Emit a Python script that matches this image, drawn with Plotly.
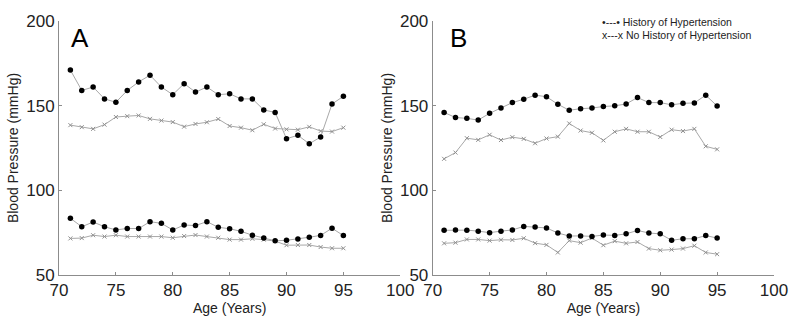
import plotly.graph_objects as go

ages = list(range(71, 96))

# Panel A
a_sys_htn = [171, 159, 161, 154, 152, 159, 164, 168, 161, 156.5, 163, 158, 161, 156.5, 157, 154, 154, 147.5, 146, 130.5, 132.5, 127.5, 131.5, 151, 155.5]
a_sys_no = [138.5, 137.3, 136.3, 138.8, 143.3, 143.8, 144.2, 142.2, 141.2, 140.3, 137.6, 139.2, 140.2, 142.1, 138, 137, 135.5, 139, 136.5, 136, 135.8, 137.5, 135, 134.7, 137]
a_dia_htn = [83.5, 78.5, 81.3, 78.5, 76.6, 77.5, 77.4, 81.5, 80.5, 76.6, 79.5, 79.2, 81.5, 78.2, 77.3, 75.8, 73.5, 71.8, 70.2, 70.5, 71.2, 72.3, 73.4, 77.6, 73.3]
a_dia_no = [71.6, 71.8, 73.5, 72.7, 73.5, 72.7, 72.7, 72.7, 72.7, 72.0, 73.0, 73.6, 72.7, 72.0, 70.9, 70.9, 71.4, 70.9, 70.0, 67.6, 67.7, 67.7, 66.5, 65.8, 65.8]

# Panel B
b_sys_htn = [146, 143, 142.5, 141.5, 145.5, 148.6, 151.8, 153.8, 156.2, 155.3, 150.8, 147.3, 148.2, 148.6, 149.5, 149.9, 151, 154.8, 151.8, 151.8, 150.5, 151.4, 151.6, 156.2, 149.8]
b_sys_no = [118.6, 122.3, 130.8, 129.8, 132.8, 129.7, 131.4, 130.4, 127.8, 130.6, 131.7, 139.5, 135.3, 134, 129.5, 134.6, 136.3, 134.6, 134.6, 131.5, 135.8, 135, 136.3, 126, 124.2]
b_dia_htn = [76.4, 76.6, 76.5, 75.9, 75.0, 75.9, 76.6, 78.7, 78.4, 77.8, 74.8, 73.0, 73.1, 72.8, 73.6, 73.4, 74.3, 76.3, 74.8, 74.3, 70.5, 71.4, 71.4, 73.3, 71.8]
b_dia_no = [68.7, 69.1, 71.0, 71.0, 70.3, 70.8, 70.7, 71.7, 68.8, 67.8, 63.3, 70.3, 69.1, 71.8, 67.6, 70.0, 68.7, 69.5, 65.6, 64.6, 65.0, 65.6, 67.3, 63.3, 62.3]

x_ticks = [70, 75, 80, 85, 90, 95, 100]
y_ticks = [50, 100, 150, 200]

LINE = "#a8a8a8"
AXIS = "#8c8c8c"

fig = go.Figure()

def add(y, xa, ya, dots):
    if dots:
        fig.add_trace(go.Scatter(
            x=ages, y=y, xaxis=xa, yaxis=ya, mode="lines+markers",
            line=dict(color=LINE, width=1),
            marker=dict(symbol="circle", size=5.5, color="black"),
            showlegend=False, hoverinfo="skip"))
    else:
        fig.add_trace(go.Scatter(
            x=ages, y=y, xaxis=xa, yaxis=ya, mode="lines+markers",
            line=dict(color=LINE, width=1),
            marker=dict(symbol="x-thin", size=4, line=dict(color="#909090", width=1)),
            showlegend=False, hoverinfo="skip"))

add(a_sys_no, "x", "y", False)
add(a_dia_no, "x", "y", False)
add(a_sys_htn, "x", "y", True)
add(a_dia_htn, "x", "y", True)
add(b_sys_no, "x2", "y2", False)
add(b_dia_no, "x2", "y2", False)
add(b_sys_htn, "x2", "y2", True)
add(b_dia_htn, "x2", "y2", True)

xcommon = dict(range=[70, 100], tickvals=x_ticks, ticktext=[str(v) for v in x_ticks],
               showline=True, linecolor=AXIS, linewidth=1, ticks="inside", ticklen=3,
               tickcolor=AXIS, showgrid=False, zeroline=False,
               tickfont=dict(size=17, color="#222"),
               title=dict(text="Age (Years)", font=dict(size=14, color="#222"), standoff=2))
ycommon = dict(range=[50, 200], tickvals=y_ticks, ticktext=[str(v) for v in y_ticks],
               showline=True, linecolor=AXIS, linewidth=1, ticks="inside", ticklen=3,
               tickcolor=AXIS, showgrid=False, zeroline=False,
               tickfont=dict(size=17, color="#222"),
               title=dict(text="Blood Pressure (mmHg)", font=dict(size=14, color="#222"), standoff=4))

L, R, T, B = 53, 20, 14, 43
pw, ph = 800 - L - R, 324 - T - B
split = (400 - L) / pw

def px(x):
    return (x - L) / pw

def py(y):
    return 1 - (y - T) / ph

fig.update_layout(
    width=800, height=324,
    margin=dict(l=L, r=R, t=T, b=B),
    paper_bgcolor="white", plot_bgcolor="white",
    font=dict(family="Liberation Sans, Arial, sans-serif", color="#222"),
    xaxis=dict(domain=[0, split], anchor="y", **xcommon),
    yaxis=dict(domain=[0, 1], anchor="x", **ycommon),
    xaxis2=dict(domain=[1 - split, 1], anchor="y2", **xcommon),
    yaxis2=dict(domain=[0, 1], anchor="x2", **ycommon),
    annotations=[
        dict(text="A", x=px(63), y=py(14), xref="paper", yref="paper", xanchor="left", yanchor="top",
             showarrow=False, font=dict(size=26, color="black")),
        dict(text="B", x=px(449), y=py(14), xref="paper", yref="paper", xanchor="left", yanchor="top",
             showarrow=False, font=dict(size=26, color="black")),
        dict(text="•---• History of Hypertension", x=px(603), y=py(15), xref="paper", yref="paper",
             xanchor="left", yanchor="middle",
             showarrow=False, font=dict(size=10.5, color="#222")),
        dict(text="x---x No History of Hypertension", x=px(603), y=py(29), xref="paper", yref="paper",
             xanchor="left", yanchor="middle",
             showarrow=False, font=dict(size=10.5, color="#222")),
    ],
)

fig.write_html("out.html")
